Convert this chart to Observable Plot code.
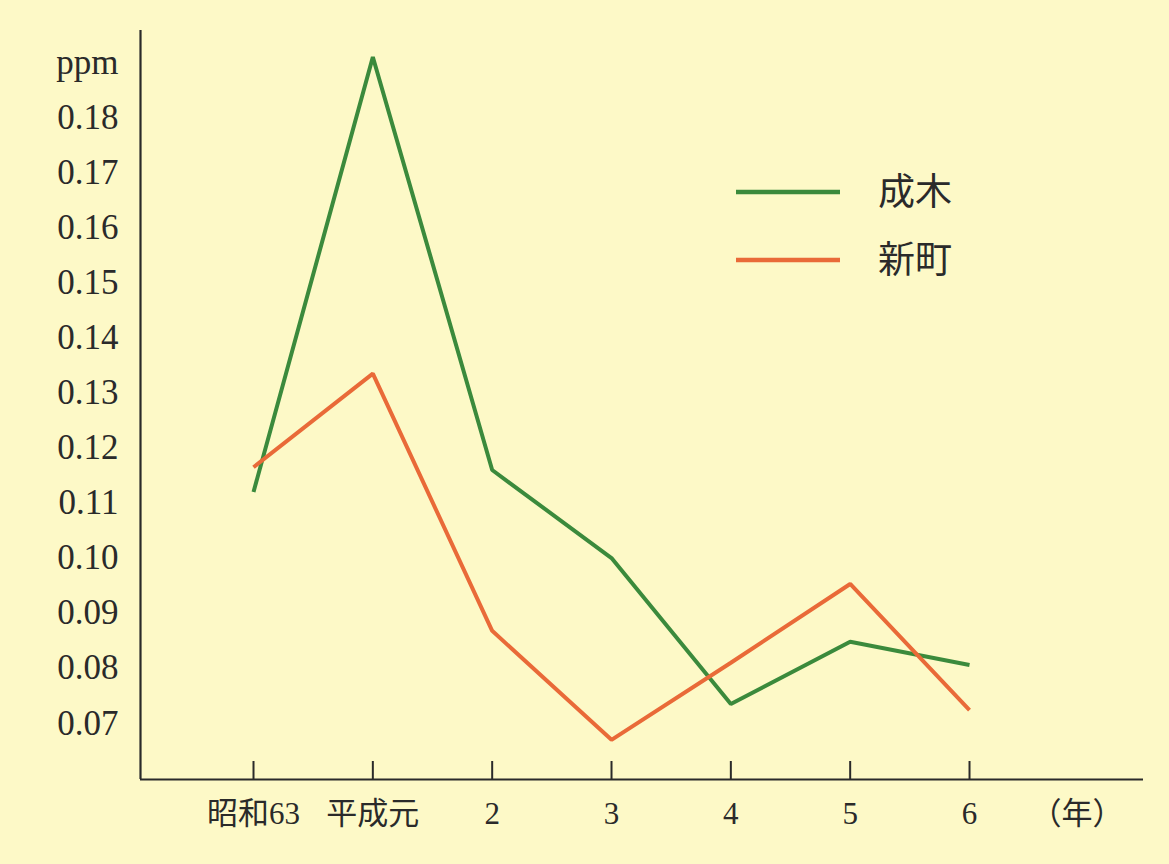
<!DOCTYPE html>
<html><head><meta charset="utf-8">
<script src="https://cdn.jsdelivr.net/npm/d3@7"></script>
<script src="https://cdn.jsdelivr.net/npm/@observablehq/plot@0.6"></script>
<style>
html,body{margin:0;padding:0;background:#fdf9c7;}
#wrap{position:relative;width:1169px;height:864px;overflow:hidden;}
#legend{position:absolute;left:736px;top:158px;font-family:"Liberation Serif","Noto Sans CJK JP",serif;color:#2a2a2a;}
.row{display:flex;align-items:center;height:68px;}
.row svg{width:104px;height:10px;margin-right:38px;}
.row span{font-size:37px;line-height:1;}
</style></head><body>
<div id="wrap"><div id="legend"></div></div>
<script>
// ---- data ----
const years = ["昭和63", "平成元", "2", "3", "4", "5", "6"];
const yearUnit = "（年）";
const nariki = [0.112, 0.191, 0.116, 0.100, 0.0735, 0.0848, 0.0806];
const shinmachi = [0.1165, 0.1335, 0.0868, 0.0670, 0.0810, 0.0953, 0.0724];
const seriesNames = ["成木", "新町"];
const seriesColors = ["#3b8a3c", "#e96a38"];
const yTicks = [0.07, 0.08, 0.09, 0.10, 0.11, 0.12, 0.13, 0.14, 0.15, 0.16, 0.17, 0.18, 0.19];
const yTickLabels = ["0.07", "0.08", "0.09", "0.10", "0.11", "0.12", "0.13", "0.14", "0.15", "0.16", "0.17", "0.18", "ppm"];

// ---- build table ----
const seriesValues = [nariki, shinmachi];
const table = [];
seriesNames.forEach((s, k) => seriesValues[k].forEach((v, i) => table.push({series: s, i, v})));
const xIdx = years.map((_, i) => i);
const unitPos = years.length - 0.1;
const xTickVals = [...xIdx, unitPos];
const xTickLabels = [...years, yearUnit];

const xDomain = [-0.947, 7.458];
const yDomain = [0.0598, 0.1958];
const ink = "#2a2a2a";

const chart = Plot.plot({
  width: 1169, height: 864,
  marginLeft: 140, marginRight: 26, marginTop: 30, marginBottom: 85,
  style: {background: "transparent", fontFamily: "'Liberation Serif','Noto Sans CJK JP',serif", color: ink, overflow: "visible"},
  x: {type: "linear", domain: xDomain},
  y: {domain: yDomain},
  color: {domain: seriesNames, range: seriesColors},
  marks: [
    Plot.axisY({ticks: yTicks, tickFormat: d => yTickLabels[yTicks.indexOf(d)], tickSize: 0, tickPadding: 22, fontSize: 35, label: null}),
    Plot.axisX({ticks: xTickVals, tickFormat: d => xTickLabels[xTickVals.indexOf(d)], tickSize: 0, tickPadding: 22, fontSize: 31, label: null}),
    Plot.ruleX(xIdx, {x: d => d, stroke: ink, strokeWidth: 2, insetTop: 749 - 18}),
    Plot.line(table, {x: "i", y: "v", z: "series", stroke: "series", strokeWidth: 4, strokeLinejoin: "miter", strokeLinecap: "butt"}),
    Plot.ruleY([yDomain[0]], {stroke: ink, strokeWidth: 2.2}),
    Plot.ruleX([xDomain[0]], {stroke: ink, strokeWidth: 2.2})
  ]
});
document.getElementById("wrap").prepend(chart);

const legend = document.getElementById("legend");
seriesNames.forEach((s, k) => {
  const row = document.createElement("div");
  row.className = "row";
  row.innerHTML = `<svg><line x1="0" x2="104" y1="5" y2="5" stroke="${seriesColors[k]}" stroke-width="4.5"/></svg><span>${s}</span>`;
  legend.appendChild(row);
});
</script>
</body></html>
